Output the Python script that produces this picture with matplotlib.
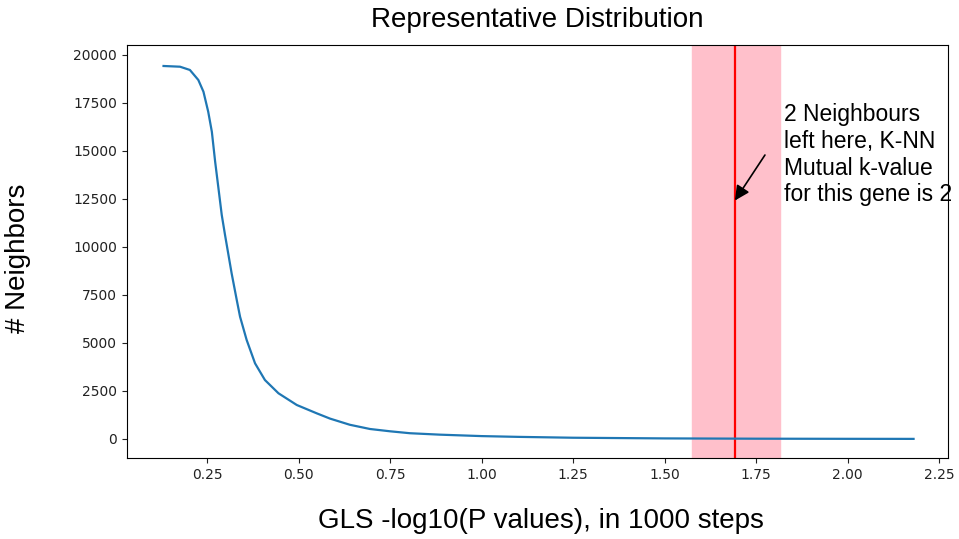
import matplotlib
matplotlib.use("Agg")
import matplotlib.pyplot as plt

# Data
gls_x = [0.131, 0.176, 0.203, 0.226, 0.240, 0.253, 0.263, 0.272, 0.281, 0.290, 0.299,
         0.317, 0.331, 0.340, 0.358, 0.381, 0.408, 0.445, 0.495, 0.549, 0.586,
         0.640, 0.695, 0.750, 0.804, 0.886, 1.00, 1.10, 1.25, 1.50, 1.75, 2.00, 2.18]
neighbors = [19427, 19390, 19220, 18700, 18090, 17050, 16000, 14440, 13060, 11670, 10625,
             8630, 7240, 6370, 5160, 3940, 3070, 2380, 1770, 1340, 1060,
             740, 520, 400, 300, 225, 150, 110, 65, 30, 15, 8, 5]

cutoff_x = 1.692
band_lo, band_hi = 1.575, 1.815
annot_text = "2 Neighbours\nleft here, K-NN\nMutual k-value\nfor this gene is 2"
arrow_tip = (1.692, 12420)
arrow_tail = (1.774, 14790)
text_pos = (1.826, 14800)

fig = plt.figure(figsize=(9.59, 5.39), dpi=100)
ax = fig.add_axes([0.1324, 0.1503, 0.8561, 0.7662])

ax.axvspan(band_lo, band_hi, color='pink', zorder=0)
ax.axvline(cutoff_x, color='red', lw=1.6, zorder=1)
ax.plot(gls_x, neighbors, color='#1f77b4', lw=1.6, zorder=2)

ax.annotate('', xy=arrow_tip, xytext=arrow_tail,
            arrowprops=dict(arrowstyle='-|>', color='black', lw=1.2,
                            mutation_scale=22, shrinkA=0, shrinkB=0))
ax.text(text_pos[0], text_pos[1], annot_text, fontsize=16.5, family='Liberation Sans',
        va='center', ha='left', linespacing=1.2)

ax.set_xlim(0.0311, 2.274)
ax.set_ylim(-990, 20520)
ax.set_xticks([0.25, 0.5, 0.75, 1.0, 1.25, 1.5, 1.75, 2.0, 2.25])
ax.set_yticks([0, 2500, 5000, 7500, 10000, 12500, 15000, 17500, 20000])
ax.tick_params(labelsize=10, colors='#222222')

fig.text(0.5605, 0.963, "Representative Distribution", ha='center', va='center',
         fontsize=20, family='Liberation Sans')
fig.text(0.564, 0.033, "GLS -log10(P values), in 1000 steps", ha='center', va='center',
         fontsize=20, family='Liberation Sans')
fig.text(0.019, 0.52, "# Neighbors", ha='center', va='center', rotation=90,
         fontsize=20, family='Liberation Sans')

fig.savefig("out.png", dpi=100)
